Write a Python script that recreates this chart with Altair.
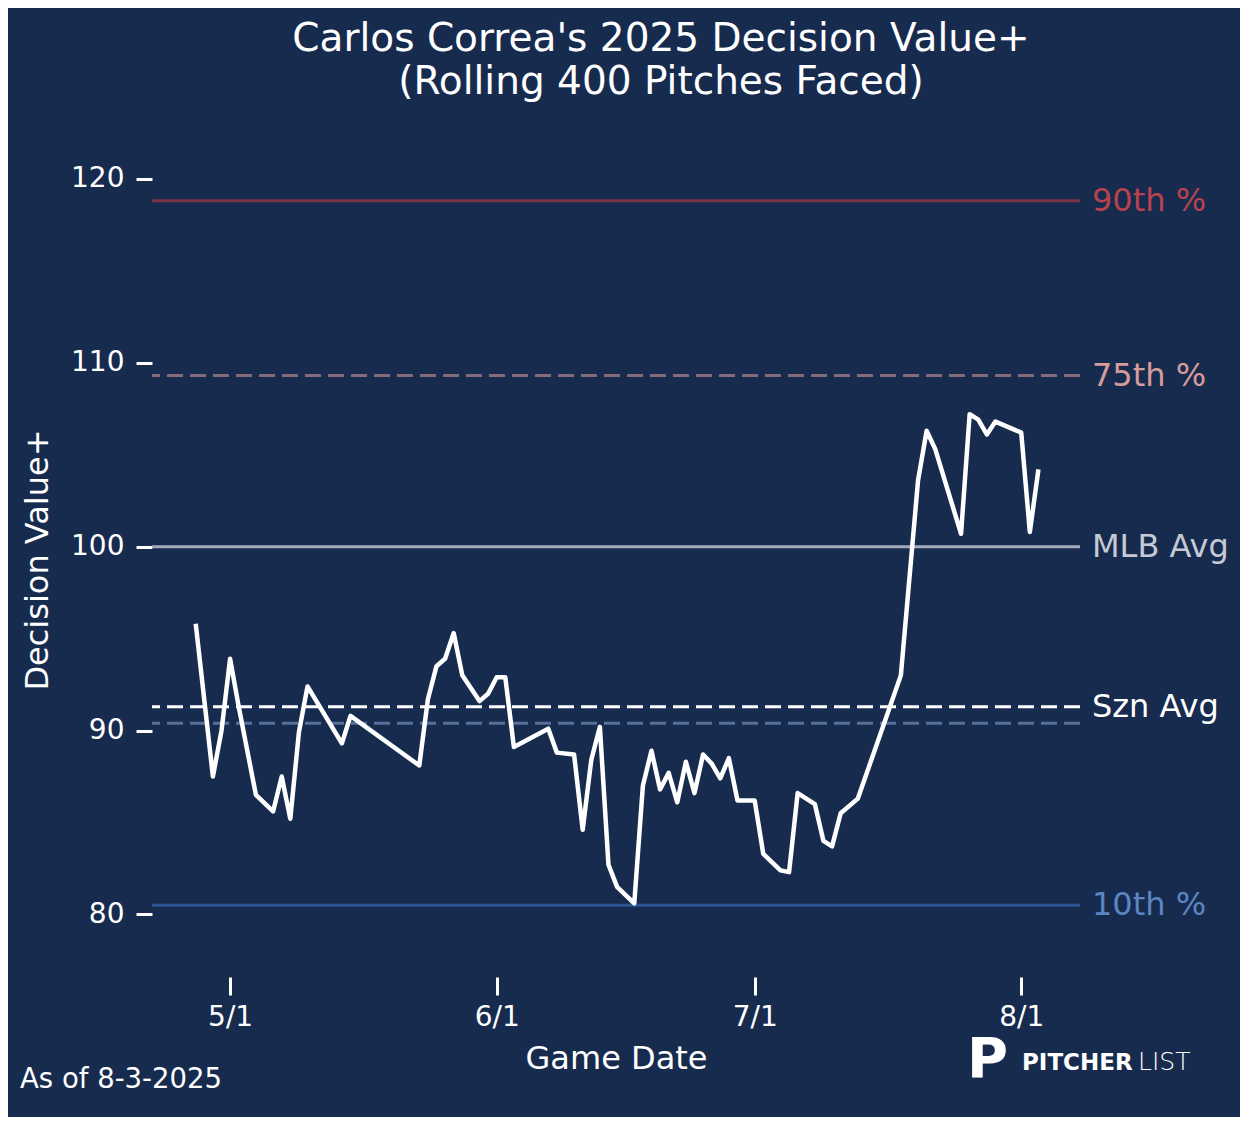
import altair as alt
import pandas as pd

# ---- data ----
dates = [
    "2025-04-27", "2025-04-29", "2025-04-30", "2025-05-01", "2025-05-02", "2025-05-04",
    "2025-05-06", "2025-05-07", "2025-05-08", "2025-05-09", "2025-05-10", "2025-05-14",
    "2025-05-15", "2025-05-23", "2025-05-24", "2025-05-25", "2025-05-26", "2025-05-27",
    "2025-05-28", "2025-05-30", "2025-05-31", "2025-06-01", "2025-06-02", "2025-06-03",
    "2025-06-07", "2025-06-08", "2025-06-10", "2025-06-11", "2025-06-12", "2025-06-13",
    "2025-06-14", "2025-06-15", "2025-06-17", "2025-06-18", "2025-06-19", "2025-06-20",
    "2025-06-21", "2025-06-22", "2025-06-23", "2025-06-24", "2025-06-25", "2025-06-26",
    "2025-06-27", "2025-06-28", "2025-06-29", "2025-07-01", "2025-07-02", "2025-07-04",
    "2025-07-05", "2025-07-06", "2025-07-08", "2025-07-09", "2025-07-10", "2025-07-11",
    "2025-07-13", "2025-07-18", "2025-07-20", "2025-07-21", "2025-07-22", "2025-07-25",
    "2025-07-26", "2025-07-27", "2025-07-28", "2025-07-29", "2025-08-01", "2025-08-02",
    "2025-08-03",
]
values = [
    95.8, 87.5, 90.0, 93.9, 91.3, 86.5,
    85.6, 87.5, 85.2, 89.9, 92.4, 89.3,
    90.8, 88.1, 91.7, 93.5, 93.9, 95.3,
    93.0, 91.6, 92.0, 92.9, 92.9, 89.1,
    90.1, 88.8, 88.7, 84.6, 88.4, 90.2,
    82.7, 81.5, 80.6, 87.0, 88.9, 86.8,
    87.7, 86.1, 88.3, 86.6, 88.7, 88.2,
    87.4, 88.5, 86.2, 86.2, 83.3, 82.4,
    82.3, 86.6, 86.0, 84.0, 83.7, 85.5,
    86.3, 93.0, 103.6, 106.3, 105.3, 100.7,
    107.2, 106.9, 106.1, 106.8, 106.2, 100.8,
    104.2,
]

ref_names = ["90th %", "75th %", "MLB Avg", "Szn Avg", "", "10th %"]
ref_values = [118.8, 109.3, 100.0, 91.3, 90.4, 80.5]
ref_dashed = [False, True, False, True, True, False]
ref_line_colors = ["#7B3646", "#856A7A", "#A3AABA", "#FFFFFF", "#56709A", "#2C5596"]
ref_label_colors = ["#B9434D", "#D59C9B", "#C5CAD5", "#FFFFFF", "#56709A", "#5B86C4"]

y_tick_values = [80, 90, 100, 110, 120]
title_lines = ["Carlos Correa's 2025 Decision Value+", "(Rolling 400 Pitches Faced)"]
footnote = "As of 8-3-2025"

BG = "#172B4F"
FONT = "DejaVu Sans"

df = pd.DataFrame({"date": dates, "value": values})
ref = pd.DataFrame({
    "name": ref_names,
    "value": ref_values,
    "dashed": ref_dashed,
    "line_color": ref_line_colors,
    "label_color": ref_label_colors,
})

x_scale = alt.Scale(
    type="utc",
    domain=[
        alt.DateTime(year=2025, month=4, date=21, hours=22, utc=True),
        alt.DateTime(year=2025, month=8, date=7, hours=20, utc=True),
    ],
)
y_scale = alt.Scale(domain=[76.6, 122.0], nice=False, zero=False)

x_ticks = [
    alt.DateTime(year=2025, month=5, date=1, utc=True),
    alt.DateTime(year=2025, month=6, date=1, utc=True),
    alt.DateTime(year=2025, month=7, date=1, utc=True),
    alt.DateTime(year=2025, month=8, date=1, utc=True),
]

y_axis = alt.Axis(
    title="Decision Value+",
    values=y_tick_values,
    grid=False,
    domain=False,
    tickSize=16,
    tickWidth=3,
    tickColor="white",
    labelColor="white",
    labelFontSize=28,
    labelFont=FONT,
    labelPadding=12,
    titleColor="white",
    titleFontSize=32,
    titleFont=FONT,
    titleFontWeight="normal",
    titlePadding=16,
)
Y = alt.Y("value:Q", scale=y_scale, axis=y_axis)

solid_rules = alt.Chart(ref).transform_filter("!datum.dashed").mark_rule(strokeWidth=3).encode(
    y=Y,
    color=alt.Color("line_color:N", scale=None),
)
dashed_rules = alt.Chart(ref).transform_filter("datum.dashed").mark_rule(
    strokeWidth=3, strokeDash=[16, 7]
).encode(
    y=Y,
    color=alt.Color("line_color:N", scale=None),
)
labels = alt.Chart(ref).transform_filter("datum.name != ''").mark_text(
    align="left", baseline="middle", dx=12, fontSize=32, font=FONT
).encode(
    x=alt.value(928),
    y=Y,
    text="name:N",
    color=alt.Color("label_color:N", scale=None),
)

line = alt.Chart(df).mark_line(color="white", strokeWidth=4.5, strokeJoin="round").encode(
    x=alt.X(
        "date:T",
        scale=x_scale,
        axis=alt.Axis(
            title="Game Date",
            values=x_ticks,
            labelExpr="utcFormat(datum.value, '%-m/%-d')",
            grid=False,
            domain=False,
            tickSize=18,
            tickWidth=3,
            tickColor="white",
            labelColor="white",
            labelFontSize=28,
            labelFont=FONT,
            labelPadding=8,
            titleColor="white",
            titleFontSize=32,
            titleFont=FONT,
            titleFontWeight="normal",
            titlePadding=12,
        ),
    ),
    y=Y,
)

misc = pd.DataFrame({"t": [footnote]})
foot = alt.Chart(misc).mark_text(
    align="left", baseline="alphabetic", fontSize=27.5, font=FONT, color="white"
).encode(x=alt.value(-132), y=alt.value(946), text="t:N")

logo_df = pd.DataFrame({"p": ["P"], "a": ["PITCHER"], "b": ["LIST"]})
logo_icon = alt.Chart(logo_df).mark_text(
    align="left", baseline="alphabetic", fontSize=56, font=FONT, fontWeight="bold", color="white"
).encode(x=alt.value(815), y=alt.value(935), text="p:N")
logo_a = alt.Chart(logo_df).mark_text(
    align="left", baseline="alphabetic", fontSize=23, font=FONT, fontWeight="bold", color="white"
).encode(x=alt.value(870), y=alt.value(928), text="a:N")
logo_b = alt.Chart(logo_df).mark_text(
    align="left", baseline="alphabetic", fontSize=25, font=FONT, fontWeight=200, color="white"
).encode(x=alt.value(986), y=alt.value(928), text="b:N")

chart = alt.layer(
    solid_rules, dashed_rules, line, labels, foot, logo_icon, logo_a, logo_b
).properties(
    width=928,
    height=835,
    background=BG,
    padding={"left": 144, "top": 134, "right": 160, "bottom": 140},
    autosize=alt.AutoSizeParams(type="none"),
    title=alt.TitleParams(
        text=title_lines,
        fontSize=39,
        font=FONT,
        fontWeight="normal",
        color="white",
        anchor="middle",
        dx=45,
        lineHeight=43,
        offset=40,
    ),
).configure_view(stroke=None)

chart.save("out.html", embed_options={"renderer": "svg", "actions": False})
